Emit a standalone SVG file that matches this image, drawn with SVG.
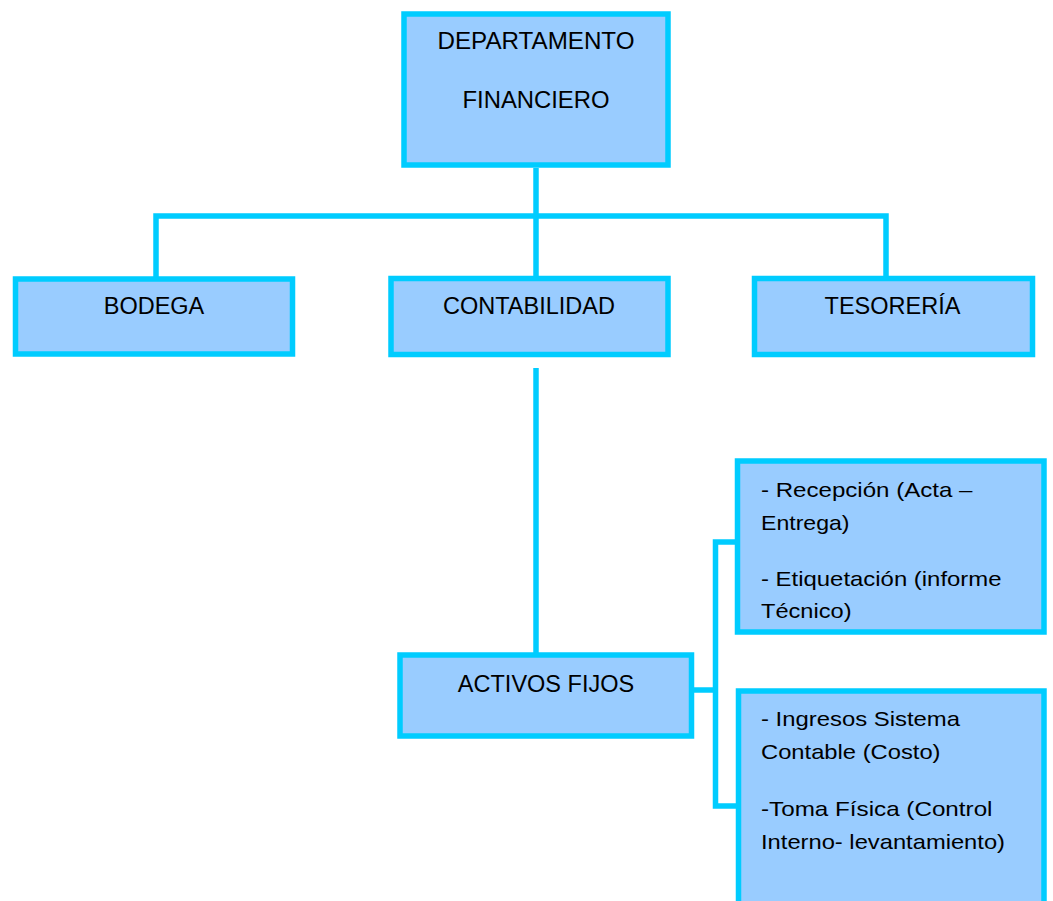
<svg xmlns="http://www.w3.org/2000/svg" width="1053" height="901" viewBox="0 0 1053 901">
  <style>
    .box { fill: #99CCFF; stroke: #00CCFF; stroke-width: 5.5; }
    .link { fill: none; stroke: #00CCFF; stroke-width: 5.5; stroke-linejoin: miter; }
    .lbl { font-family: "Liberation Sans", Arial, sans-serif; font-size: 23.5px; fill: #000; text-anchor: middle; }
    .note { font-family: "Liberation Sans", Arial, sans-serif; font-size: 21px; fill: #000; }
  </style>
  <rect width="1053" height="901" fill="#FFFFFF"/>

  <!-- connectors -->
  <g id="connectors">
    <path class="link" d="M536,168 V218"/>
    <path class="link" d="M156,279 V216 H886 V279"/>
    <path class="link" d="M536,216 V278"/>
    <path class="link" d="M536,368 V655"/>
    <path class="link" d="M691,690 H716"/>
    <path class="link" d="M738,542 H715.5 V806 H738"/>
  </g>

  <g id="departamento-financiero">
    <rect class="box" x="404" y="14" width="264" height="151"/>
    <text class="lbl" x="536" y="49" font-size="22.5" textLength="197" lengthAdjust="spacingAndGlyphs">DEPARTAMENTO</text>
    <text class="lbl" x="536" y="108" font-size="22.5" textLength="147" lengthAdjust="spacingAndGlyphs">FINANCIERO</text>
  </g>

  <g id="bodega">
    <rect class="box" x="15.5" y="279" width="277" height="75"/>
    <text class="lbl" x="154" y="314">BODEGA</text>
  </g>

  <g id="contabilidad">
    <rect class="box" x="391" y="278.5" width="277" height="76"/>
    <text class="lbl" x="529" y="314">CONTABILIDAD</text>
  </g>

  <g id="tesoreria">
    <rect class="box" x="754.5" y="278.5" width="278" height="76"/>
    <text class="lbl" x="892.5" y="314">TESORERÍA</text>
  </g>

  <g id="activos-fijos">
    <rect class="box" x="400" y="655" width="291.5" height="81"/>
    <text class="lbl" x="546" y="692">ACTIVOS FIJOS</text>
  </g>

  <g id="recepcion-etiquetacion">
    <rect class="box" x="737.5" y="461" width="306.5" height="171"/>
    <text class="note" x="761" y="497" textLength="211.5" lengthAdjust="spacingAndGlyphs">- Recepción (Acta –</text>
    <text class="note" x="761" y="530" textLength="88.5" lengthAdjust="spacingAndGlyphs">Entrega)</text>
    <text class="note" x="761" y="586" textLength="240.5" lengthAdjust="spacingAndGlyphs">- Etiquetación (informe</text>
    <text class="note" x="761" y="618" textLength="90.5" lengthAdjust="spacingAndGlyphs">Técnico)</text>
  </g>

  <g id="ingresos-toma-fisica">
    <rect class="box" x="738.5" y="691" width="305.5" height="260"/>
    <text class="note" x="761" y="726" textLength="199" lengthAdjust="spacingAndGlyphs">- Ingresos Sistema</text>
    <text class="note" x="761" y="759" textLength="179.5" lengthAdjust="spacingAndGlyphs">Contable (Costo)</text>
    <text class="note" x="761" y="816" textLength="231.5" lengthAdjust="spacingAndGlyphs">-Toma Física (Control</text>
    <text class="note" x="761" y="849" textLength="244" lengthAdjust="spacingAndGlyphs">Interno- levantamiento)</text>
  </g>
</svg>
